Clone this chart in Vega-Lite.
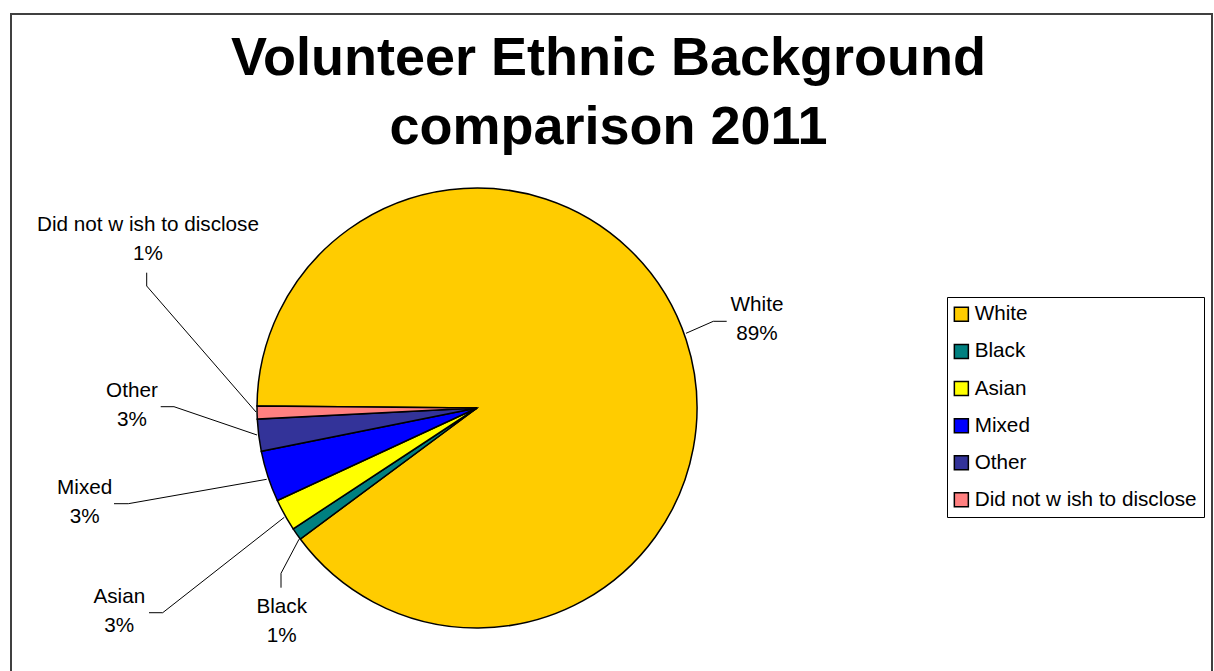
{
  "$schema": "https://vega.github.io/schema/vega-lite/v6.json",
  "width": 1201,
  "height": 670,
  "autosize": {"type": "none"},
  "padding": {"left": 11, "top": 14, "right": 2, "bottom": 0},
  "background": "white",
  "config": {
    "view": {"stroke": "#404040", "strokeWidth": 2},
    "font": "Liberation Sans"
  },
  "title": {
    "text": ["Volunteer Ethnic Background", "comparison 2011"],
    "fontSize": 54,
    "font": "Liberation Sans",
    "fontWeight": "bold",
    "color": "black",
    "anchor": "middle",
    "frame": "group",
    "lineHeight": 69,
    "offset": -184,
    "baseline": "alphabetic",
    "dx": -3
  },
  "datasets": {
    "pie": [
      {"category": "White", "value": 89.7, "idx": 1},
      {"category": "Black", "value": 0.9, "idx": 2},
      {"category": "Asian", "value": 2.35, "idx": 3},
      {"category": "Mixed", "value": 3.75, "idx": 4},
      {"category": "Other", "value": 2.35, "idx": 5},
      {"category": "Did not w ish to disclose", "value": 0.95, "idx": 6}
    ],
    "labels": [
      {"category": "White", "label": "White\n89%", "ux": 1.2727, "uy": 0.4423},
      {"category": "Black", "label": "Black\n1%", "ux": -0.8877, "uy": -0.9332},
      {"category": "Asian", "label": "Asian\n3%", "ux": -1.6259, "uy": -0.885},
      {"category": "Mixed", "label": "Mixed\n3%", "ux": -1.7832, "uy": -0.3909},
      {"category": "Other", "label": "Other\n3%", "ux": -1.5682, "uy": 0.0514},
      {"category": "Did not w ish to disclose", "label": "Did not w ish to disclose\n1%", "ux": -1.4955, "uy": 0.8059}
    ],
    "leaders": [
      {"category": "White", "seq": 1, "lx": 1.135, "ly": 0.3941},
      {"category": "White", "seq": 2, "lx": 1.0741, "ly": 0.3941},
      {"category": "White", "seq": 3, "lx": 0.95, "ly": 0.3395},
      {"category": "Did not w ish to disclose", "seq": 1, "lx": -1.5014, "ly": 0.615},
      {"category": "Did not w ish to disclose", "seq": 2, "lx": -1.5014, "ly": 0.5545},
      {"category": "Did not w ish to disclose", "seq": 3, "lx": -1.0045, "ly": -0.0182},
      {"category": "Other", "seq": 1, "lx": -1.4377, "ly": 0.0059},
      {"category": "Other", "seq": 2, "lx": -1.3773, "ly": 0.0059},
      {"category": "Other", "seq": 3, "lx": -1.0, "ly": -0.1227},
      {"category": "Mixed", "seq": 1, "lx": -1.65, "ly": -0.435},
      {"category": "Mixed", "seq": 2, "lx": -1.585, "ly": -0.435},
      {"category": "Mixed", "seq": 3, "lx": -0.9559, "ly": -0.3241},
      {"category": "Asian", "seq": 1, "lx": -1.4909, "ly": -0.9305},
      {"category": "Asian", "seq": 2, "lx": -1.4286, "ly": -0.9305},
      {"category": "Asian", "seq": 3, "lx": -0.8759, "ly": -0.4968},
      {"category": "Black", "seq": 1, "lx": -0.8909, "ly": -0.8168},
      {"category": "Black", "seq": 2, "lx": -0.8909, "ly": -0.7514},
      {"category": "Black", "seq": 3, "lx": -0.8091, "ly": -0.5968}
    ]
  },
  "layer": [
    {
      "data": {"name": "pie"},
      "mark": {"type": "arc", "outerRadius": 220, "stroke": "black", "strokeWidth": 1.5},
      "encoding": {
        "x": {"datum": 0, "type": "quantitative", "scale": {"domain": [-2.11818, 3.34091], "nice": false, "zero": false}, "axis": null},
        "y": {"datum": 0, "type": "quantitative", "scale": {"domain": [-1.25455, 1.79091], "nice": false, "zero": false}, "axis": null},
        "theta": {"field": "value", "type": "quantitative", "stack": true, "scale": {"range": [-1.5617, 4.7215]}},
        "order": {"field": "idx", "type": "quantitative"},
        "color": {
          "field": "category",
          "type": "nominal",
          "scale": {
            "domain": ["White", "Black", "Asian", "Mixed", "Other", "Did not w ish to disclose"],
            "range": ["#FFCC00", "#008080", "#FFFF00", "#0000FF", "#333399", "#FF8080"]
          },
          "legend": {
            "title": null,
            "orient": "none",
            "legendX": 936,
            "legendY": 283,
            "direction": "vertical",
            "symbolType": "square",
            "symbolSize": 196,
            "symbolStrokeColor": "black",
            "symbolStrokeWidth": 1.5,
            "symbolOffset": -3,
            "labelFontSize": 20.7,
            "labelFont": "Liberation Sans",
            "labelColor": "black",
            "rowPadding": 15.1,
            "padding": 7,
            "strokeColor": "black",
            "fillColor": "white",
            "labelOffset": 3,
            "labelLimit": 400
          }
        }
      }
    },
    {
      "data": {"name": "leaders"},
      "mark": {"type": "line", "color": "black", "strokeWidth": 1},
      "encoding": {
        "x": {"field": "lx", "type": "quantitative", "scale": {"domain": [-2.11818, 3.34091], "nice": false, "zero": false}, "axis": null},
        "y": {"field": "ly", "type": "quantitative", "scale": {"domain": [-1.25455, 1.79091], "nice": false, "zero": false}, "axis": null},
        "detail": {"field": "category", "type": "nominal"},
        "order": {"field": "seq", "type": "quantitative"}
      }
    },
    {
      "data": {"name": "labels"},
      "mark": {"type": "text", "font": "Liberation Sans", "fontSize": 20.7, "align": "center", "baseline": "alphabetic", "lineBreak": "\n", "lineHeight": 29, "color": "black"},
      "encoding": {
        "x": {"field": "ux", "type": "quantitative", "scale": {"domain": [-2.11818, 3.34091], "nice": false, "zero": false}, "axis": null},
        "y": {"field": "uy", "type": "quantitative", "scale": {"domain": [-1.25455, 1.79091], "nice": false, "zero": false}, "axis": null},
        "text": {"field": "label", "type": "nominal"}
      }
    }
  ]
}
